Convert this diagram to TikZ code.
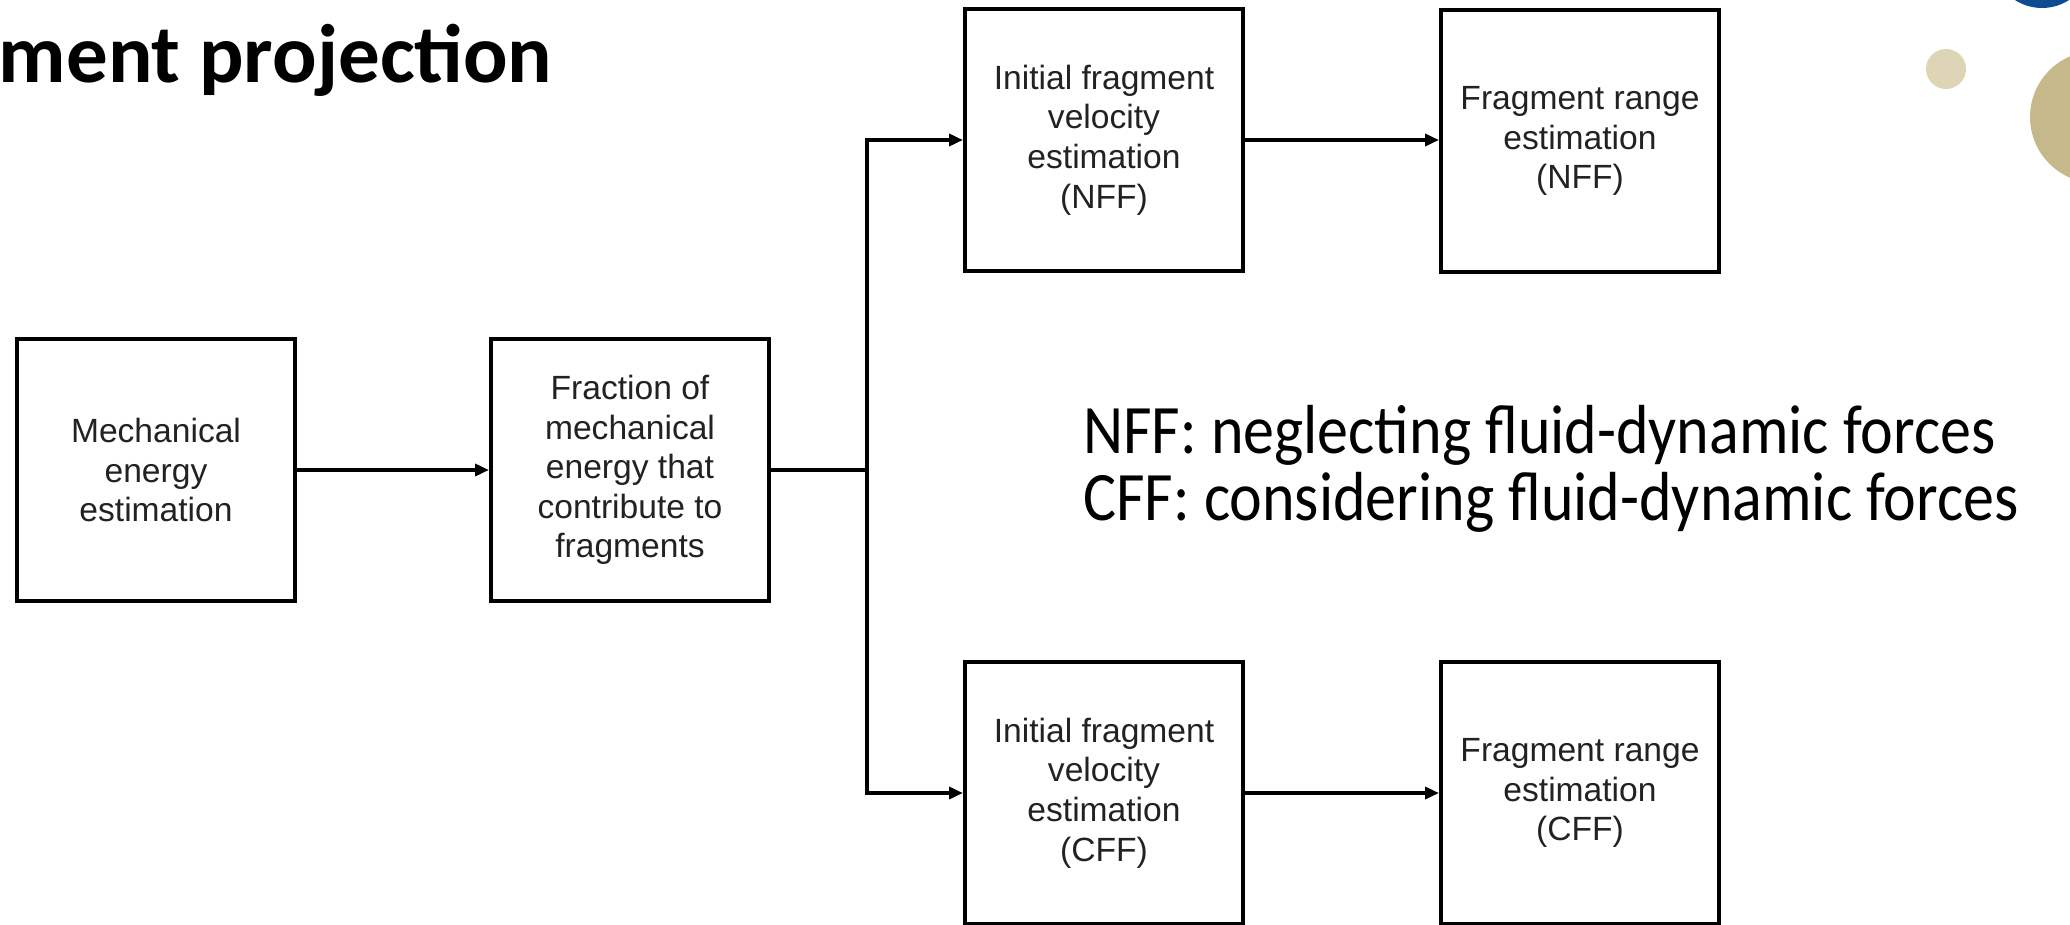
\documentclass[tikz,border=0pt]{standalone}
\usepackage{fontspec}
\setmainfont{Liberation Sans}
\newfontfamily\calibri{Carlito}
\usetikzlibrary{arrows.meta}
\definecolor{beigelight}{HTML}{DDD5B5}
\definecolor{beigedark}{HTML}{C5B98C}
\definecolor{navyblue}{HTML}{0E4C92}
\definecolor{boxtext}{HTML}{222222}
\tikzset{
  procbox/.style={draw=black, line width=2pt, rectangle, minimum width=139pt, minimum height=131pt,
    inner sep=0pt, align=center, text=boxtext, font=\fontsize{16.8pt}{19.8pt}\selectfont},
  arr/.style={line width=2pt, -{Triangle[length=7pt,width=6pt]}},
  conn/.style={line width=2pt},
  legend/.style={anchor=base west, inner sep=0pt, font=\calibri\fontsize{31pt}{37.5pt}\selectfont},
  titletext/.style={anchor=base east, inner sep=0pt, font=\calibri\bfseries\fontsize{41.5pt}{50pt}\selectfont}
}
\begin{document}
\begin{tikzpicture}[x=0.5pt, y=-0.5pt]
\useasboundingbox (0,0) rectangle (2070,925);
\clip (0,0) rectangle (2070,925);
% decorative circles
\fill[navyblue] (2042,-42) circle (50);
\fill[beigelight] (1946,69) circle (20);
\fill[beigedark] (2096,117) circle (66);
% title
\node[titletext] (title) at (553,83) {ment projection};
% boxes
\node[procbox] (mech) at (156,470) {Mechanical\\energy\\estimation};
\node[procbox] (frac) at (630,470) {Fraction of\\mechanical\\energy that\\contribute to\\fragments};
\node[procbox] (ivn) at (1104,140) {Initial fragment\\velocity\\estimation\\(NFF)};
\node[procbox] (frn) at (1580,141) {Fragment range\\estimation\\(NFF)};
\node[procbox] (ivc) at (1104,793) {Initial fragment\\velocity\\estimation\\(CFF)};
\node[procbox] (frc) at (1580,793) {Fragment range\\estimation\\(CFF)};
% connectors
\coordinate (jn) at (867,470);
\draw[arr] (mech.east) -- (frac.west);
\draw[conn] (frac.east) -- (jn);
\draw[arr] (jn) |- (ivn.west);
\draw[arr] (jn) |- (ivc.west);
\draw[arr] (ivn.east) -- (ivn.east -| frn.west);
\draw[arr] (ivc.east) -- (frc.west);
% legend
\node[legend] (legn) at (1083,453) {\scalebox{1}[1.12]{NFF: neglecting fluid-dynamic forces}};
\node[legend] (legc) at (1083,520) {\scalebox{1}[1.12]{CFF: considering fluid-dynamic forces}};
\end{tikzpicture}
\end{document}
